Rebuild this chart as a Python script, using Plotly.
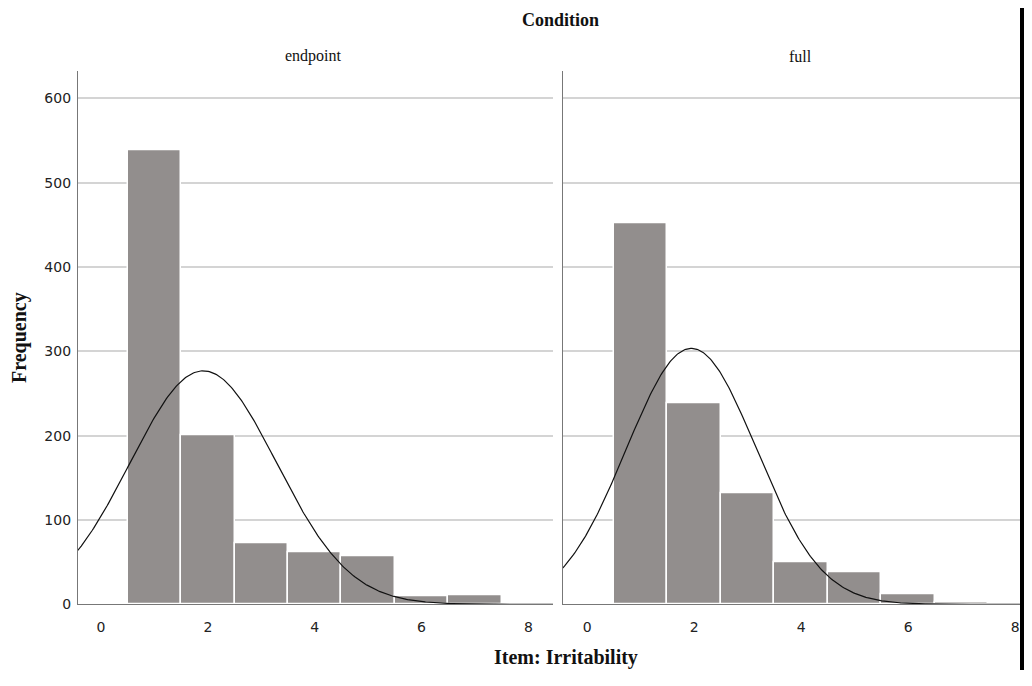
import numpy as np
import plotly.graph_objects as go

# ---- data ----
bins = [1, 2, 3, 4, 5, 6, 7]
endpoint_counts = [539, 201, 72, 62, 57, 9, 11]
full_counts = [452, 239, 132, 50, 38, 12, 2]
panel_titles = ["endpoint", "full"]
x_ticks = [0, 2, 4, 6, 8]
y_ticks = [0, 100, 200, 300, 400, 500, 600]

OFF = 8  # page body margin
W, H = 1032 - 2 * OFF, 686 - 2 * OFF
BAR_COLOR = "#928e8d"
SERIF = "Liberation Serif, Times New Roman, serif"
SANS = "DejaVu Sans, Liberation Sans, sans-serif"


def px_x(p):
    return (p - OFF) / W


def px_y(p):
    return 1 - (p - OFF) / H


def normal_curve(counts):
    b = np.array(bins, dtype=float)
    c = np.array(counts, dtype=float)
    n = c.sum()
    mu = (b * c).sum() / n
    sd = np.sqrt((c * (b - mu) ** 2).sum() / (n - 1))
    xs = np.linspace(-0.6, 8.6, 400)
    ys = n / (sd * np.sqrt(2 * np.pi)) * np.exp(-0.5 * ((xs - mu) / sd) ** 2)
    return xs, ys


fig = go.Figure()

for i, counts in enumerate([endpoint_counts, full_counts]):
    xa = "x" if i == 0 else "x2"
    ya = "y" if i == 0 else "y2"
    fig.add_trace(go.Bar(
        x=bins, y=counts, width=1.0,
        marker=dict(color=BAR_COLOR, line=dict(color="white", width=1.5)),
        xaxis=xa, yaxis=ya, showlegend=False, hoverinfo="x+y",
    ))
    xs, ys = normal_curve(counts)
    fig.add_trace(go.Scatter(
        x=xs, y=ys, mode="lines", line=dict(color="#111111", width=1.2),
        xaxis=xa, yaxis=ya, showlegend=False, hoverinfo="skip",
    ))

y_bottom = px_y(611.5)
y_top = px_y(72)
y_range = [0, (611.5 - 72) / 0.8533]

# right panel is cut at the figure edge (x = 1024 on the page)
right_end_px = 1024
right_end_val = (right_end_px - 587) / 53.5

axis_common = dict(
    showgrid=False, zeroline=False, ticks="", showline=True,
    linecolor="#777777", linewidth=1.2,
    tickfont=dict(family=SANS, size=14, color="#222222"),
)
grid = dict(showgrid=True, gridcolor="#d4d4d4", gridwidth=2)

fig.update_layout(
    width=W, height=H,
    margin=dict(l=0, r=0, t=0, b=0),
    paper_bgcolor="white", plot_bgcolor="white",
    bargap=0,
    xaxis=dict(domain=[px_x(78), px_x(553)], range=[-0.43, 8.46],
               tickvals=x_ticks, anchor="y", ticklabelstandoff=10, **axis_common),
    xaxis2=dict(domain=[px_x(563), px_x(right_end_px) - 0.004], range=[-0.45, right_end_val - 0.08],
                tickvals=x_ticks, anchor="y2", ticklabelstandoff=10, **axis_common),
    yaxis=dict(domain=[y_bottom, y_top], range=y_range, tickvals=y_ticks,
               anchor="x", ticklabelstandoff=3, **{**axis_common, **grid}),
    yaxis2=dict(domain=[y_bottom, y_top], range=y_range, tickvals=y_ticks,
                anchor="x2", showticklabels=False, **{**axis_common, **grid}),
)

def ann(text, x, y, size, angle=0):
    return dict(text=text, x=px_x(x), y=px_y(y), xref="paper", yref="paper",
                xanchor="center", yanchor="middle", textangle=angle,
                showarrow=False, font=dict(family=SERIF, size=size, color="#111111"))

fig.update_layout(annotations=[
    ann("<b>Condition</b>", 560, 20, 18),
    ann(panel_titles[0], 313, 57, 16),
    ann(panel_titles[1], 800, 57, 16),
    ann("<b>Frequency</b>", 19, 342, 20, -90),
    ann("<b>Item: Irritability</b>", 566, 665, 20),
])

fig.add_shape(type="rect", xref="paper", yref="paper",
              x0=1 - 4 / W, x1=1.0, y0=0, y1=1,
              fillcolor="black", line=dict(width=0))

fig.write_html("out.html")
